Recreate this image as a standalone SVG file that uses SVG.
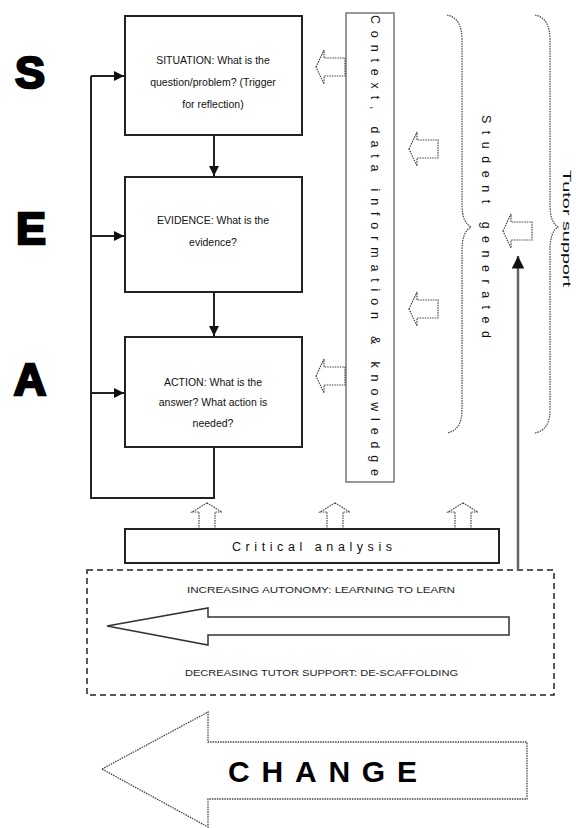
<svg xmlns="http://www.w3.org/2000/svg" width="576" height="828" viewBox="0 0 576 828">
<style>
.box{fill:#fff;stroke:#222;stroke-width:2}
.ln{fill:none;stroke:#222;stroke-width:2}
.dot{fill:#fff;stroke:#444;stroke-width:1.2;stroke-dasharray:1.5 1}
.brace{fill:none;stroke:#444;stroke-width:1.2;stroke-dasharray:1.5 1}
.t{font-family:"Liberation Sans",Arial,sans-serif;font-size:10.5px;fill:#111;text-anchor:middle}
.big{font-family:"Liberation Sans",Arial,sans-serif;font-weight:bold;font-size:45px;fill:#000;stroke:#000;stroke-width:2.5;text-anchor:middle}
.sp{font-family:"Liberation Sans",Arial,sans-serif;font-size:12.5px;fill:#111}
.cap{font-family:"Liberation Sans",Arial,sans-serif;font-size:9.5px;fill:#222}
</style>
<defs>
<marker id="ah" viewBox="0 0 10 10" refX="10" refY="5" markerWidth="5" markerHeight="5" orient="auto" markerUnits="strokeWidth">
<path d="M0,0 L10,5 L0,10 Z" fill="#111"/>
</marker>
<path id="la" d="M0,17 L8,0 L8,8 L29,8 L29,26 L8,26 L8,34 Z"/>
<path id="ua" d="M15,0 L30,9 L23,9 L23,26 L7,26 L7,9 L0,9 Z"/>
</defs>
<rect width="576" height="828" fill="#fff"/>

<g id="letters">
<text class="big" x="30" y="88">S</text>
<text class="big" x="31" y="244">E</text>
<text class="big" x="30" y="395">A</text>
</g>

<g id="situation">
<rect class="box" x="125" y="16" width="177" height="119"/>
<text class="t" x="213" y="64">SITUATION: What is the</text>
<text class="t" x="213" y="86">question/problem? (Trigger</text>
<text class="t" x="213" y="108">for reflection)</text>
</g>
<g id="evidence">
<rect class="box" x="125" y="177" width="177" height="115"/>
<text class="t" x="213" y="224">EVIDENCE: What is the</text>
<text class="t" x="213" y="246">evidence?</text>
</g>
<g id="action">
<rect class="box" x="125" y="337" width="177" height="110"/>
<text class="t" x="213" y="386">ACTION: What is the</text>
<text class="t" x="213" y="406">answer? What action is</text>
<text class="t" x="213" y="427">needed?</text>
</g>

<g id="context">
<rect x="346" y="13" width="48" height="469" fill="#fff" stroke="#777" stroke-width="1.5"/>
<text class="sp" transform="translate(371,15) rotate(90)" x="0" y="0" textLength="461" lengthAdjust="spacing">Context, data information &amp; knowledge</text>
</g>

<g id="student-brace">
<path class="brace" d="M447,15 Q462,18 462,40 L462,205 Q462,222 471,227 Q462,232 462,250 L462,410 Q462,430 447,433"/>
<text class="sp" transform="translate(482,115) rotate(90)" x="0" y="0" textLength="223" lengthAdjust="spacing">Student generated</text>
</g>
<g id="tutor-brace">
<path class="brace" d="M535,15 Q550,18 550,40 L550,205 Q550,222 558,227 Q550,232 550,250 L550,410 Q550,430 535,433"/>
<text class="sp" style="font-size:11.5px" transform="translate(563,170) rotate(90)" x="0" y="0" textLength="117" lengthAdjust="spacingAndGlyphs">Tutor support</text>
</g>

<g id="hollow-arrows">
<use href="#la" class="dot" x="316" y="50"/>
<use href="#la" class="dot" x="409" y="132"/>
<use href="#la" class="dot" x="409" y="292"/>
<use href="#la" class="dot" x="316" y="359"/>
<use href="#la" class="dot" x="503" y="214"/>
<use href="#ua" class="dot" x="192" y="503"/>
<use href="#ua" class="dot" x="320" y="503"/>
<use href="#ua" class="dot" x="448" y="503"/>
</g>

<g id="critical">
<rect class="box" x="125" y="529" width="374" height="34"/>
<text class="sp" x="232" y="551" textLength="160" lengthAdjust="spacing">Critical analysis</text>
</g>

<g id="autonomy">
<rect x="87" y="570" width="467" height="125" fill="none" stroke="#222" stroke-width="1.5" stroke-dasharray="6 4"/>
<text class="cap" x="187" y="593" textLength="268" lengthAdjust="spacingAndGlyphs">INCREASING AUTONOMY: LEARNING TO LEARN</text>
<path d="M107,626 L208,608 L208,617 L509,617 L509,635 L208,635 L208,645 Z" fill="#fff" stroke="#333" stroke-width="1.5"/>
<text class="cap" x="185" y="676" textLength="273" lengthAdjust="spacingAndGlyphs">DECREASING TUTOR SUPPORT: DE-SCAFFOLDING</text>
</g>

<g id="change">
<path d="M102,769 L208,712 L208,742 L527,742 L527,799 L208,799 L208,827 Z" fill="#fff" stroke="#444" stroke-width="1.3" stroke-dasharray="1.5 1"/>
<text x="228" y="782" font-family="'Liberation Sans',Arial,sans-serif" font-weight="bold" font-size="30" fill="#000" textLength="189" lengthAdjust="spacing">CHANGE</text>
</g>

<g id="connectors">
<line class="ln" x1="214" y1="135" x2="214" y2="176" marker-end="url(#ah)"/>
<line class="ln" x1="214" y1="292" x2="214" y2="336" marker-end="url(#ah)"/>
<polyline class="ln" points="214,447 214,498 91,498 91,76"/>
<line class="ln" x1="91" y1="76" x2="124" y2="76" marker-end="url(#ah)"/>
<line class="ln" x1="91" y1="236" x2="124" y2="236" marker-end="url(#ah)"/>
<line class="ln" x1="91" y1="393" x2="124" y2="393" marker-end="url(#ah)"/>
<line x1="518" y1="570" x2="518" y2="256" stroke="#666" stroke-width="2.5" marker-end="url(#ah)"/>
</g>
</svg>
